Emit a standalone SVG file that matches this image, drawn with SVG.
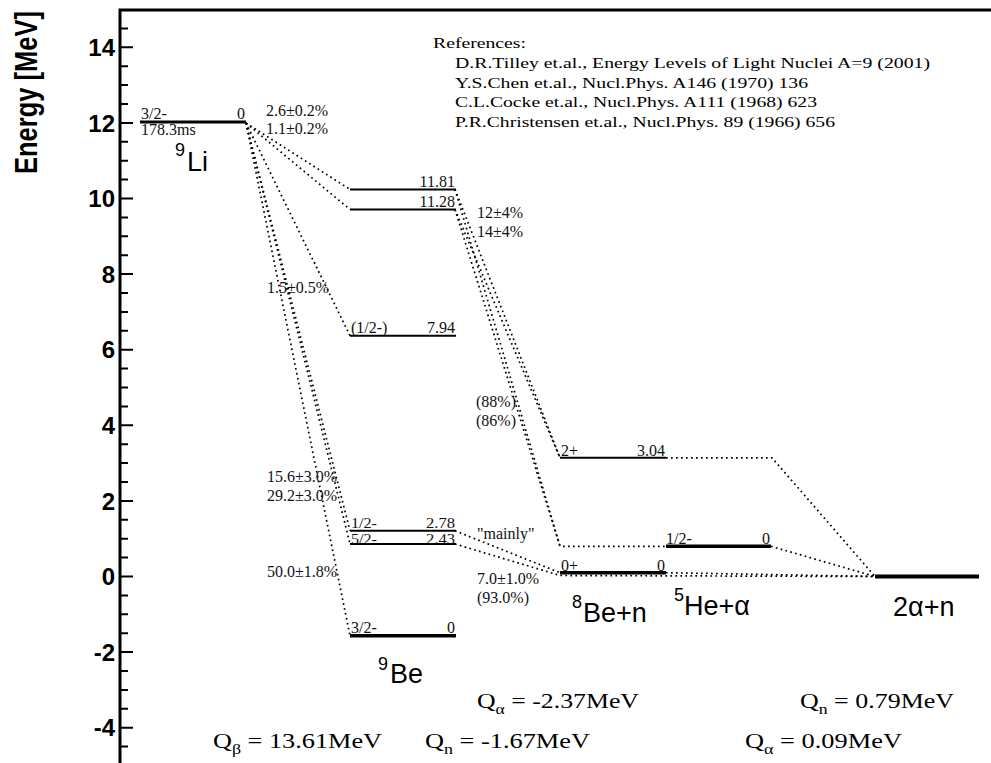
<svg xmlns="http://www.w3.org/2000/svg" width="991" height="763" viewBox="0 0 991 763">
<defs>
<style>
.bg{fill:#fff}
.frame{stroke:#000;stroke-width:3;fill:none}
.tick{stroke:#000;stroke-width:2}
.tl{font-family:"Liberation Sans",Arial,sans-serif;font-weight:bold;font-size:24px;text-anchor:end;fill:#000}
.title{font-family:"Liberation Sans",Arial,sans-serif;font-weight:bold;font-size:25.5px;fill:#000}
.lv{stroke:#000;stroke-width:2}
.gs{stroke:#000;stroke-width:3.5}
.dot{stroke:#000;stroke-width:1.7;fill:none;stroke-dasharray:1.7 3.3}
.s{font-family:"Liberation Serif","Times New Roman",serif;font-size:16px;fill:#111}
.t{font-size:14px}
.r{text-anchor:end}
.ref{font-family:"Liberation Serif","Times New Roman",serif;font-size:15px;fill:#000}
.big{font-family:"Liberation Sans",Arial,sans-serif;font-size:27px;fill:#000}
.sup{font-family:"Liberation Sans",Arial,sans-serif;font-size:18px;fill:#000}
.q{font-family:"Liberation Serif","Times New Roman",serif;font-size:22px;fill:#000}
.sub{font-size:15px}
</style>
</defs>
<rect class="bg" x="0" y="0" width="991" height="763"/>

<g id="axis">
<path class="frame" d="M120,763 V10 H991"/>
<path class="tick" d="M120,28.4h8M120,47.3h13M120,66.2h8M120,85.1h8M120,104h8M120,122.9h13M120,141.8h8M120,160.7h8M120,179.6h8M120,198.5h13M120,217.4h8M120,236.3h8M120,255.2h8M120,274.1h13M120,293h8M120,311.9h8M120,330.8h8M120,349.7h13M120,368.6h8M120,387.5h8M120,406.4h8M120,425.3h13M120,444.2h8M120,463.1h8M120,482h8M120,500.9h13M120,519.8h8M120,538.7h8M120,557.6h8M120,576.5h13M120,595.4h8M120,614.3h8M120,633.2h8M120,652.1h13M120,671h8M120,689.9h8M120,708.8h8M120,727.7h13M120,746.6h8"/>
<text class="tl" x="115" y="56">14</text>
<text class="tl" x="115" y="131.5">12</text>
<text class="tl" x="115" y="207">10</text>
<text class="tl" x="115" y="282.5">8</text>
<text class="tl" x="115" y="358">6</text>
<text class="tl" x="115" y="434">4</text>
<text class="tl" x="115" y="509.5">2</text>
<text class="tl" x="115" y="585">0</text>
<text class="tl" x="115" y="660.5">-2</text>
<text class="tl" x="115" y="736">-4</text>
<text class="title" transform="translate(37,174) rotate(-90) scale(1,1.2)">Energy [MeV]</text>
</g>

<g id="references">
<text class="ref" x="433" y="48" textLength="93" lengthAdjust="spacingAndGlyphs">References:</text>
<text class="ref" x="455" y="68" textLength="475" lengthAdjust="spacingAndGlyphs">D.R.Tilley et.al., Energy Levels of Light Nuclei A=9 (2001)</text>
<text class="ref" x="455" y="88" textLength="353" lengthAdjust="spacingAndGlyphs">Y.S.Chen et.al., Nucl.Phys. A146 (1970) 136</text>
<text class="ref" x="455" y="107" textLength="362" lengthAdjust="spacingAndGlyphs">C.L.Cocke et.al., Nucl.Phys. A111 (1968) 623</text>
<text class="ref" x="455" y="127" textLength="380" lengthAdjust="spacingAndGlyphs">P.R.Christensen et.al., Nucl.Phys. 89 (1966) 656</text>
</g>

<g id="connectors">
<path class="dot" d="M246,123 L350,189.4"/>
<path class="dot" d="M246,123 L350,209.5"/>
<path class="dot" d="M246,123 L350,335.7"/>
<path class="dot" d="M246,123 L350,530.8"/>
<path class="dot" d="M246,123 L350,544"/>
<path class="dot" d="M246,123 L350,635.8"/>
<path class="dot" d="M455,189.4 L560,457.8"/>
<path class="dot" d="M455,209.5 L560,457.8"/>
<path class="dot" d="M455,189.4 L560,546.3 L666,546.3"/>
<path class="dot" d="M455,209.5 L560,546.3"/>
<path class="dot" d="M455,530.8 L560,572.7"/>
<path class="dot" d="M455,544 L560,575.5 L875,576.5"/>
<path class="dot" d="M666,572.7 L875,576.5"/>
<path class="dot" d="M666,457.8 L772,457.8 L875,576.5"/>
<path class="dot" d="M771,546.3 L875,576.5"/>
</g>

<g id="Li9">
<line class="gs" x1="140" y1="122" x2="246" y2="122" style="stroke-width:3"/>
<text class="s" x="141" y="119">3/2-</text>
<text class="s r" x="245" y="119">0</text>
<text class="s" x="141" y="135">178.3ms</text>
<text class="sup" x="175" y="156">9</text>
<text class="big" x="187" y="171">Li</text>
</g>

<g id="Be9-11.81">
<line class="lv" x1="350" y1="189.4" x2="456" y2="189.4"/>
<text class="s r" x="455" y="187">11.81</text>
</g>
<g id="Be9-11.28">
<line class="lv" x1="350" y1="209.5" x2="456" y2="209.5"/>
<text class="s r" x="455" y="207">11.28</text>
</g>
<g id="Be9-7.94">
<line class="lv" x1="350" y1="335.7" x2="456" y2="335.7"/>
<text class="s" x="351" y="333">(1/2-)</text>
<text class="s r" x="455" y="333">7.94</text>
</g>
<g id="Be9-2.78">
<line class="lv" x1="350" y1="530.8" x2="456" y2="530.8"/>
<text class="s t" x="351" y="527.8" textLength="26" lengthAdjust="spacingAndGlyphs">1/2-</text>
<text class="s t r" x="455" y="527.8" textLength="29" lengthAdjust="spacingAndGlyphs">2.78</text>
</g>
<g id="Be9-2.43">
<line class="lv" x1="350" y1="544" x2="456" y2="544"/>
<text class="s t" x="351" y="543.6" textLength="26" lengthAdjust="spacingAndGlyphs">5/2-</text>
<text class="s t r" x="455" y="543.6" textLength="29" lengthAdjust="spacingAndGlyphs">2.43</text>
</g>
<g id="Be9-gs">
<line class="gs" x1="350" y1="635.8" x2="456" y2="635.8"/>
<text class="s" x="351" y="633">3/2-</text>
<text class="s r" x="455" y="633">0</text>
<text class="sup" x="378" y="670">9</text>
<text class="big" x="390" y="683">Be</text>
</g>

<g id="Be8n-2plus">
<line class="lv" x1="560" y1="457.8" x2="666" y2="457.8"/>
<text class="s" x="561" y="455.5">2+</text>
<text class="s r" x="665" y="455.5">3.04</text>
</g>
<g id="Be8n-gs">
<line class="gs" x1="560" y1="572.7" x2="666" y2="572.7"/>
<text class="s" x="561" y="570.5">0+</text>
<text class="s r" x="665" y="570.5">0</text>
<text class="sup" x="572" y="608">8</text>
<text class="big" x="583" y="622">Be+n</text>
</g>

<g id="He5a">
<line class="gs" x1="666" y1="546.3" x2="771" y2="546.3"/>
<text class="s" x="666" y="544">1/2-</text>
<text class="s r" x="770" y="544">0</text>
<text class="sup" x="674" y="601">5</text>
<text class="big" x="684" y="615">He+α</text>
</g>

<g id="a2n">
<line class="gs" x1="875" y1="576.5" x2="979" y2="576.5" style="stroke-width:4"/>
<text class="big" x="893" y="616">2α+n</text>
</g>

<g id="branch-labels">
<text class="s" x="266" y="116">2.6±0.2%</text>
<text class="s" x="266" y="134">1.1±0.2%</text>
<text class="s" x="267" y="293">1.5±0.5%</text>
<text class="s" x="477" y="218">12±4%</text>
<text class="s" x="477" y="237">14±4%</text>
<text class="s" x="476" y="407">(88%)</text>
<text class="s" x="476" y="426">(86%)</text>
<text class="s" x="267" y="482">15.6±3.0%</text>
<text class="s" x="267" y="501">29.2±3.0%</text>
<text class="s" x="267" y="577">50.0±1.8%</text>
<text class="s" x="477" y="539">"mainly"</text>
<text class="s" x="477" y="584">7.0±1.0%</text>
<text class="s" x="477" y="603">(93.0%)</text>
</g>

<g id="q-values">
<text class="q" x="213" y="748" textLength="169" lengthAdjust="spacingAndGlyphs">Q<tspan class="sub" dy="6">β</tspan><tspan dy="-6"> = 13.61MeV</tspan></text>
<text class="q" x="425" y="748" textLength="165" lengthAdjust="spacingAndGlyphs">Q<tspan class="sub" dy="6">n</tspan><tspan dy="-6"> = -1.67MeV</tspan></text>
<text class="q" x="477" y="708" textLength="162" lengthAdjust="spacingAndGlyphs">Q<tspan class="sub" dy="6">α</tspan><tspan dy="-6"> = -2.37MeV</tspan></text>
<text class="q" x="800" y="708" textLength="154" lengthAdjust="spacingAndGlyphs">Q<tspan class="sub" dy="6">n</tspan><tspan dy="-6"> = 0.79MeV</tspan></text>
<text class="q" x="745" y="748" textLength="157" lengthAdjust="spacingAndGlyphs">Q<tspan class="sub" dy="6">α</tspan><tspan dy="-6"> = 0.09MeV</tspan></text>
</g>
</svg>
